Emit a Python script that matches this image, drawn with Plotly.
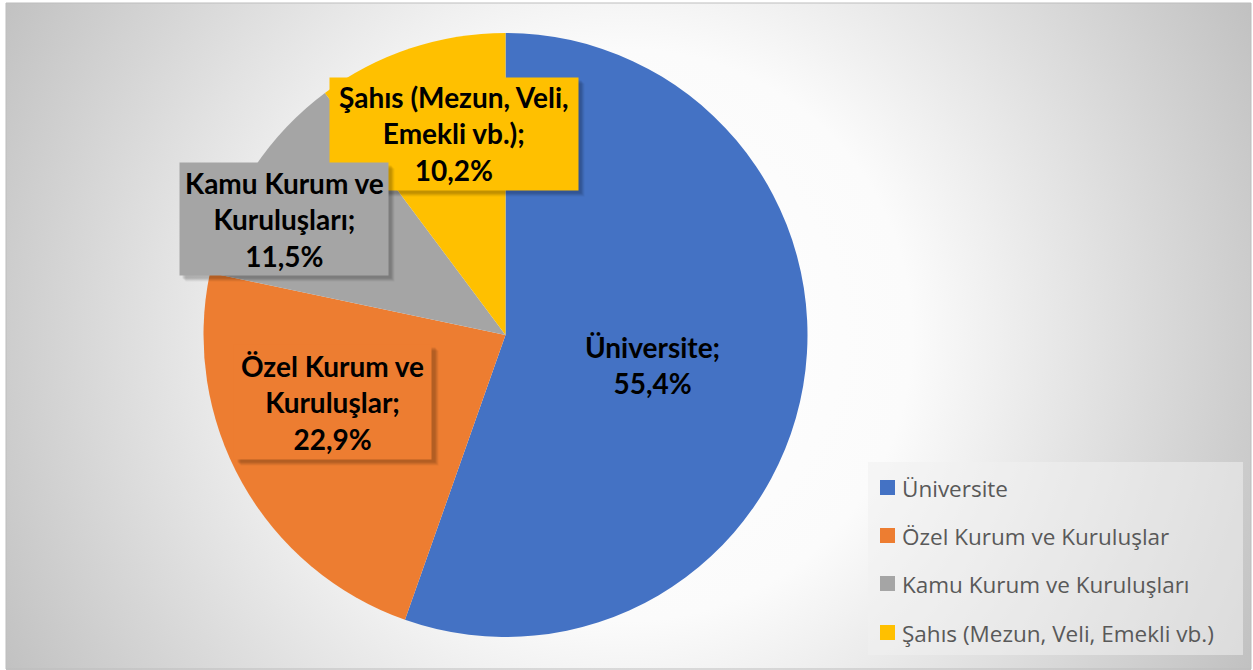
import base64
import plotly.graph_objects as go

categories = ["Üniversite", "Özel Kurum ve Kuruluşlar", "Kamu Kurum ve Kuruluşları", "Şahıs (Mezun, Veli, Emekli vb.)"]
values = [55.4, 22.9, 11.5, 10.2]
label_lines = [["Üniversite;"], ["Özel Kurum ve", "Kuruluşlar;"], ["Kamu Kurum ve", "Kuruluşları;"], ["Şahıs (Mezun, Veli,", "Emekli vb.);"]]
colors = ["#4472C4", "#ED7D31", "#A5A5A5", "#FFC000"]

W, H = 1253, 670

def px(x):
    return x / W

def py(y):
    return 1 - y / H

fig = go.Figure()
fig.add_trace(go.Pie(
    labels=categories, values=values, sort=False, direction="clockwise", rotation=0,
    marker=dict(colors=colors, line=dict(width=0)),
    textinfo="none", hoverinfo="label+percent", showlegend=False,
    domain=dict(x=[px(203), px(808)], y=[py(637), py(33)]),
))

# background radial gradient
svg = f'''<svg xmlns="http://www.w3.org/2000/svg" width="1245" height="667" viewBox="0 0 1245 667">
<defs><radialGradient id="g" gradientUnits="userSpaceOnUse" cx="620" cy="332" r="715">
<stop offset="0" stop-color="#ffffff"/><stop offset="0.4" stop-color="#fbfbfb"/><stop offset="1" stop-color="#c0c0c0"/>
</radialGradient></defs><rect width="1245" height="667" fill="url(#g)"/></svg>'''
uri = "data:image/svg+xml;base64," + base64.b64encode(svg.encode()).decode()

fig.add_layout_image(dict(source=uri, xref="paper", yref="paper", x=px(6), y=py(3),
                          sizex=1245 / W, sizey=667 / H, sizing="stretch",
                          xanchor="left", yanchor="top", layer="below"))

shapes = [dict(type="rect", xref="paper", yref="paper", x0=px(6), x1=px(1251), y0=py(669), y1=py(3),
               line=dict(color="#bdbdbd", width=1), layer="below")]

annotations = []
# label boxes: (center x, center y, width, height, boxed); drawn in order Şahıs, Kamu, Özel, Üniversite
boxes = {0: (652, 365, 0, 0, False), 1: (333, 402, 197, 114, True),
         2: (284, 219, 208, 112, True), 3: (454, 134, 248, 112, True)}
lab_font = dict(family="Lato, Open Sans, sans-serif", size=28, color="#000000")
for i in [3, 2, 1, 0]:
    cx, cy, bw, bh, boxed = boxes[i]
    text = "<br>".join(f"<b>{l}</b>" for l in label_lines[i] + [f"{values[i]:.1f}%".replace(".", ",")])
    if boxed:
        for k, a in [(7, 0.05), (6, 0.06), (5, 0.07), (4, 0.08)]:
            annotations.append(dict(x=px(cx + k - 1), y=py(cy + k - 1), xref="paper", yref="paper", text="",
                                    showarrow=False, width=bw, height=bh, bgcolor=f"rgba(0,0,0,{a})",
                                    borderpad=0, xanchor="center", yanchor="middle"))
        annotations.append(dict(x=px(cx), y=py(cy), xref="paper", yref="paper", text="",
                                showarrow=False, width=bw, height=bh, bgcolor=colors[i],
                                borderpad=0, xanchor="center", yanchor="middle"))
    annotations.append(dict(x=px(cx), y=py(cy), xref="paper", yref="paper", text=text,
                            showarrow=False, font=lab_font, align="center",
                            xanchor="center", yanchor="middle"))

# legend box
shapes.append(dict(type="rect", xref="paper", yref="paper", x0=px(868), x1=px(1243), y0=py(655), y1=py(462),
                   fillcolor="rgba(240,240,240,0.55)", line=dict(width=0)))
leg_y = [488, 536, 584, 633]
for i, cat in enumerate(categories):
    y = leg_y[i]
    shapes.append(dict(type="rect", xref="paper", yref="paper", x0=px(880), x1=px(895), y0=py(y + 7), y1=py(y - 8),
                       fillcolor=colors[i], line=dict(width=0)))
    annotations.append(dict(x=px(900), y=py(y), xref="paper", yref="paper", text=cat, showarrow=False,
                            xanchor="left", yanchor="middle",
                            font=dict(family="Open Sans, sans-serif", size=22.5, color="#595959")))

fig.update_layout(
    width=W, height=H, margin=dict(l=0, r=0, t=0, b=0),
    paper_bgcolor="#ffffff", plot_bgcolor="#ffffff",
    shapes=shapes, annotations=annotations, showlegend=False,
)

fig.write_html("out.html", config={"displayModeBar": False},
               post_script="document.body.style.margin='0';")
